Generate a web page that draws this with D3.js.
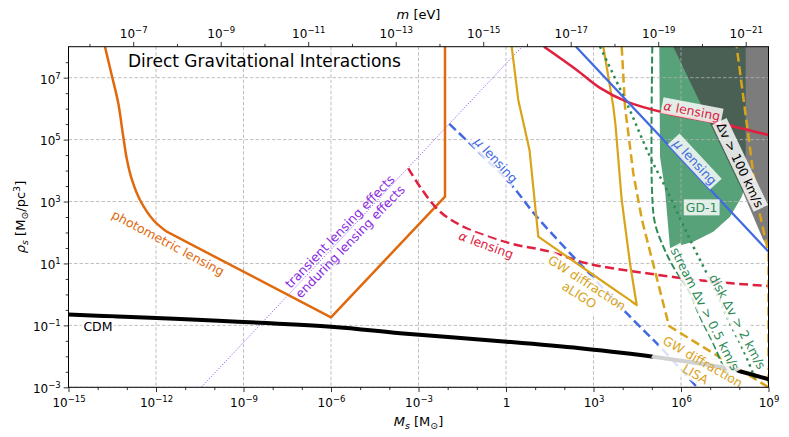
<!DOCTYPE html>
<html>
<head>
<meta charset="utf-8">
<script src="https://cdn.jsdelivr.net/npm/d3@7"></script>
<style>
body { margin: 0; background: #fff; }
text { font-family: "DejaVu Sans", sans-serif; }
</style>
</head>
<body>
<script>
// all curves as [log10 Ms / Msun, log10 rho_s / (Msun/pc^3)]
var cdm = [[-15,-0.649],[-6,-1.043],[-3.634,-1.256],[0.024,-1.527],[2.537,-1.74],[5.05,-2.012],[7.567,-2.386],[9,-2.742]];
var photometric = [[-13.749,8],[-13.519,7.087],[-13.293,6.173],[-13.131,5.149],[-12.994,4.342],[-12.823,3.696],[-12.549,3.05],[-12.093,2.404],[-11.633,2.026],[-6,-0.739],[-2.091,3.156],[-2.091,8]];
var alphaSolid = [[1.303,8],[2.424,7.249],[3.223,6.67],[4.138,6.225],[5.51,5.85],[7.268,5.537],[9,5.149]];
var muSolid = [[2.4,8],[9,1.38]];
var muDashed = [[-1.944,5.505],[0.137,3.589],[1.053,2.51],[3.223,0.304],[4.364,-0.826],[5.28,-1.689],[6.55,-3]];
var alphaDashed = [[-3.35,4.074],[-2.949,3.479],[-2.263,2.672],[-1.348,2.136],[0.137,1.651],[1.509,1.38],[2.767,1.005],[4.824,0.682],[7.107,0.411],[9,0.272]];
var lensingBoundary = [[-10.45,-3],[0.55,8]];
var aligo = [[0.195,8],[0.421,6.28],[0.806,4.665],[1.107,1.864],[4.481,-0.342],[4.251,1.005],[3.967,3.05],[3.754,5.472],[3.679,6.063],[3.336,8]];
var lisa = [[3.967,8],[4.08,6.063],[4.364,3.912],[4.662,2.404],[5.143,0.627],[5.589,-1.02],[9,-3],[9,1.328],[8.596,3.05],[8.253,5.527],[7.91,8]];
var stream = [[5.016,8],[5.005,3.373],[5.108,2.297],[5.393,1.541],[5.736,0.895],[6.25,0.143],[6.651,-0.72],[7.107,-1.579],[7.45,-2.335],[7.738,-2.764]];
var disk = [[3.223,8],[4.193,6.063],[4.937,4.448],[5.51,3.373],[6.367,1.651],[7.166,0.143],[7.68,-0.933],[8.136,-1.795],[8.537,-2.709]];
var gd1 = [[5.256,8],[5.28,4.448],[5.452,3.373],[5.623,1.49],[6.422,1.703],[7.107,2.026],[7.68,2.51],[8.081,3.156],[8.218,3.534],[8.218,8]];
var dv100 = [[5.736,8],[9,8],[9,1.532],[8.821,1.758],[8.091,3.373]];

// tick exponents
var xMajor = [-15,-12,-9,-6,-3,0,3,6,9];
var yMajor = [-3,-1,1,3,5,7];
var mMajor = [-7,-9,-11,-13,-15,-17,-19,-21];
var mMinor = [-6,-8,-10,-12,-14,-16,-18,-20];

var ORANGE = "#e0690d", RED = "#e0203f", BLUE = "#4169e1", GOLD = "#d9a31a", GREEN = "#2e8b57", PURPLE = "#8a2be2";

var labelDefs = [
  {lines:["photometric lensing"], at:[-11.589,1.661], rot:28, color:ORANGE, box:true},
  {lines:["CDM"], at:[-13.99,-1.036], rot:0, color:"#000", box:true},
  {lines:["transient lensing effects","enduring lensing effects"], at:[-5.52,1.87], rot:-46, color:PURPLE, box:false},
  {lines:["α lensing"], at:[6.377,5.924], rot:11, color:RED, box:true},
  {lines:["μ lensing"], at:[6.48,4.277], rot:47, color:BLUE, box:true},
  {lines:["GD-1"], at:[6.709,2.808], rot:0, color:GREEN, box:true},
  {lines:["Δv > 100 km/s"], at:[8.023,4.18], rot:64.5, color:"#000", box:true},
  {lines:["μ lensing"], at:[-0.343,4.342], rot:47, color:BLUE, box:true},
  {lines:["α lensing"], at:[-0.686,1.596], rot:20, color:RED, box:true},
  {lines:["GW diffraction","aLIGO"], at:[2.643,0.175], rot:33, color:GOLD, box:true},
  {lines:["GW diffraction","LISA"], at:[6.624,-2.377], rot:30, color:GOLD, box:true},
  {lines:["stream Δv > 0.5 km/s"], at:[6.823,-0.471], rot:63, color:GREEN, box:true},
  {lines:["disk Δv > 2 km/s"], at:[7.937,-0.881], rot:62, color:GREEN, box:true}
];

var W = 789, H = 437;
var L = 68.5, R = 768.5, T = 46.7, B = 387.3;

var x = d3.scaleLog().domain([1e-15, 1e9]).range([L, R]);
var y = d3.scaleLog().domain([1e-3, 1e8]).range([B, T]);
var xm = d3.scaleLog().domain([Math.pow(10,-5.521), Math.pow(10,-21.521)]).range([L, R]);

var svg = d3.select("body").append("svg").attr("width", W).attr("height", H);

svg.append("defs").append("clipPath").attr("id", "plot")
  .append("rect").attr("x", L).attr("y", T).attr("width", R - L).attr("height", B - T);

var plot = svg.append("g").attr("clip-path", "url(#plot)");

var px = function(d){ return x(Math.pow(10, d[0])); };
var py = function(d){ return y(Math.pow(10, d[1])); };
var lin = d3.line().x(px).y(py);
var smooth = d3.line().x(px).y(py).curve(d3.curveCatmullRom);

// regions
plot.append("path").attr("d", lin(gd1) + "Z").attr("fill", GREEN).attr("fill-opacity", 0.8);
plot.append("path").attr("d", lin(dv100) + "Z").attr("fill", "#444").attr("fill-opacity", 0.7);

// grid
var grid = plot.append("g").attr("stroke", "#b0b0b0").attr("stroke-width", 0.8).attr("stroke-dasharray", "3.5,2");
grid.selectAll("line.v").data(xMajor).enter().append("line")
  .attr("x1", function(e){ return x(Math.pow(10,e)); }).attr("x2", function(e){ return x(Math.pow(10,e)); })
  .attr("y1", T).attr("y2", B);
grid.selectAll("line.h").data(yMajor).enter().append("line")
  .attr("y1", function(e){ return y(Math.pow(10,e)); }).attr("y2", function(e){ return y(Math.pow(10,e)); })
  .attr("x1", L).attr("x2", R);

function curvePath(d, color, width, dash) {
  plot.append("path").attr("d", d).attr("fill", "none")
    .attr("stroke", color).attr("stroke-width", width)
    .attr("stroke-dasharray", dash || null).attr("stroke-linejoin", "round");
}
function curve(data, gen, color, width, dash) { curvePath(gen(data), color, width, dash); }

curve(lensingBoundary, lin, "#9a5cf0", 1, "1.2,1.6");
// curved upper branch, then straight segments with sharp corners
curvePath(smooth(photometric.slice(0, 9)) + lin(photometric.slice(8)).replace("M", "L"), ORANGE, 2.5);
curve(alphaDashed, smooth, RED, 2.5, "9,4.5");
curve(muDashed, smooth, BLUE, 2.5, "9,4.5");
curve(aligo, lin, GOLD, 2.2);
curve(lisa, lin, GOLD, 2.5, "9,4.5");
curve(stream, smooth, GREEN, 2, "7,3");
curve(disk, smooth, GREEN, 2.5, "2.5,4");
curve(alphaSolid, smooth, RED, 2.5);
curve(muSolid, lin, BLUE, 2.2);
curve(cdm, smooth, "#000", 4);

// labels
var labels = svg.append("g");
labelDefs.forEach(function(p){
  var g = labels.append("g")
    .attr("transform", "translate(" + px(p.at) + "," + py(p.at) + ") rotate(" + p.rot + ")");
  var t = g.append("text").attr("text-anchor", "middle").attr("fill", p.color).style("font-size", "12.5px");
  var n = p.lines.length;
  p.lines.forEach(function(s, i){
    var ts = t.append("tspan").attr("x", 0).attr("dy", i === 0 ? (0.35 - (n - 1) * 0.575) + "em" : "1.15em");
    var greek = s.match(/^([αμ])(.*)$/);
    if (greek) {
      ts.append("tspan").style("font-style", "italic").text(greek[1]);
      ts.append("tspan").text(greek[2]);
    } else ts.text(s);
  });
  if (p.box) {
    var b = t.node().getBBox();
    g.insert("rect", "text").attr("x", b.x - 2).attr("y", b.y - 0.5)
      .attr("width", b.width + 4).attr("height", b.height + 1)
      .attr("fill", "#fff").attr("fill-opacity", 0.82);
  }
});

// title
svg.append("text").attr("x", L + 0.085 * (R - L)).attr("y", 67).style("font-size", "17px").text("Direct Gravitational Interactions");

// axes
function powLabel(sel, e) {
  sel.text("");
  if (e === 0) { sel.text("1"); return; }
  sel.append("tspan").text("10");
  sel.append("tspan").attr("dy", -5).style("font-size", "8.5px").text(e < 0 ? "\u2212" + (-e) : String(e));
}
function styleAxis(g) {
  g.select(".domain").remove();
  g.attr("font-family", "DejaVu Sans").attr("font-size", 12);
  g.selectAll(".tick line").attr("stroke", "#000").attr("stroke-width", 0.8);
}

var xMinor = d3.range(-15, 10).filter(function(e){ return xMajor.indexOf(e) < 0; });
var yMinor = d3.range(-3, 8, 0.5).filter(function(e){ return yMajor.indexOf(e) < 0; });

svg.append("g").attr("transform", "translate(0," + B + ")")
  .call(d3.axisBottom(x).tickValues(xMinor.map(function(e){ return Math.pow(10,e); })).tickSize(2.8).tickFormat(""))
  .call(styleAxis);
svg.append("g").attr("transform", "translate(0," + B + ")")
  .call(d3.axisBottom(x).tickValues(xMajor.map(function(e){ return Math.pow(10,e); })).tickSize(4.8).tickPadding(4).tickFormat(""))
  .call(styleAxis)
  .selectAll(".tick text").each(function(d){ powLabel(d3.select(this), Math.round(Math.log10(d))); })
  .attr("dy", "0.9em");

svg.append("g").attr("transform", "translate(" + L + ",0)")
  .call(d3.axisLeft(y).tickValues(yMinor.map(function(e){ return Math.pow(10,e); })).tickSize(2.8).tickFormat(""))
  .call(styleAxis);
svg.append("g").attr("transform", "translate(" + L + ",0)")
  .call(d3.axisLeft(y).tickValues(yMajor.map(function(e){ return Math.pow(10,e); })).tickSize(4.8).tickPadding(3).tickFormat(""))
  .call(styleAxis)
  .selectAll(".tick text").each(function(d){ powLabel(d3.select(this), Math.round(Math.log10(d))); })
  .attr("dy", "0.45em");

svg.append("g").attr("transform", "translate(0," + T + ")")
  .call(d3.axisTop(xm).tickValues(mMinor.map(function(e){ return Math.pow(10,e); })).tickSize(2.8).tickFormat(""))
  .call(styleAxis);
svg.append("g").attr("transform", "translate(0," + T + ")")
  .call(d3.axisTop(xm).tickValues(mMajor.map(function(e){ return Math.pow(10,e); })).tickSize(4.8).tickPadding(4).tickFormat(""))
  .call(styleAxis)
  .selectAll(".tick text").each(function(d){ powLabel(d3.select(this), Math.round(Math.log10(d))); })
  .attr("dy", "0em");

// frame
svg.append("rect").attr("x", L).attr("y", T).attr("width", R - L).attr("height", B - T)
  .attr("fill", "none").attr("stroke", "#000").attr("stroke-width", 1);

// axis titles
var bx = svg.append("text").attr("x", (L + R) / 2).attr("y", 426).attr("text-anchor", "middle").style("font-size", "13px");
bx.append("tspan").style("font-style", "italic").text("M");
bx.append("tspan").attr("dy", 3).style("font-style", "italic").style("font-size", "9.5px").text("s");
bx.append("tspan").attr("dy", -3).text(" [M");
bx.append("tspan").attr("dy", 3).style("font-size", "9.5px").text("\u2299");
bx.append("tspan").attr("dy", -3).text("]");

var tx = svg.append("text").attr("x", (L + R) / 2).attr("y", 19).attr("text-anchor", "middle").style("font-size", "13px");
tx.append("tspan").style("font-style", "italic").text("m");
tx.append("tspan").text(" [eV]");

var ly = svg.append("text").attr("transform", "translate(25," + ((T + B) / 2) + ") rotate(-90)")
  .attr("text-anchor", "middle").style("font-size", "13px");
ly.append("tspan").style("font-style", "italic").text("ρ");
ly.append("tspan").attr("dy", 3).style("font-style", "italic").style("font-size", "9.5px").text("s");
ly.append("tspan").attr("dy", -3).text(" [M");
ly.append("tspan").attr("dy", 3).style("font-size", "9.5px").text("\u2299");
ly.append("tspan").attr("dy", -3).text("/pc");
ly.append("tspan").attr("dy", -5).style("font-size", "9.5px").text("3");
ly.append("tspan").attr("dy", 5).text("]");
</script>
</body>
</html>
